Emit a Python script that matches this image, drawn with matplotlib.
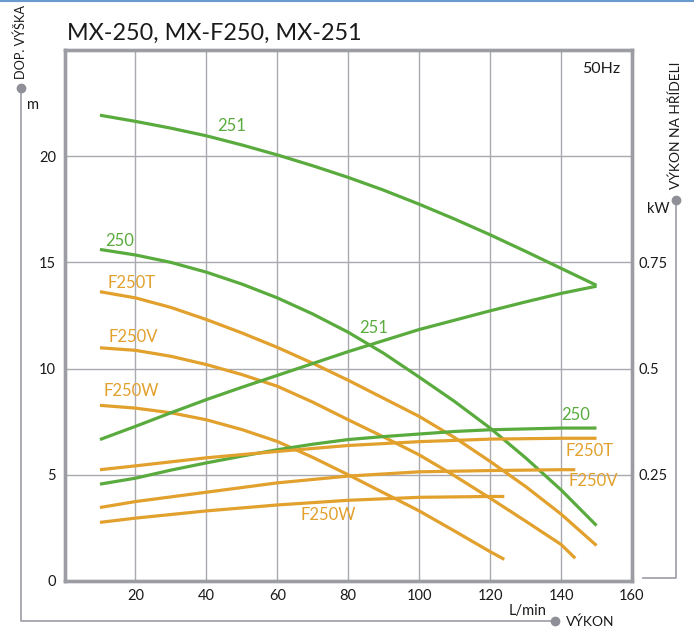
import matplotlib
matplotlib.use("Agg")
import matplotlib.pyplot as plt
from matplotlib.lines import Line2D

plt.rcParams['font.family'] = ['Lato', 'DejaVu Sans']

# ---------------- data ----------------
# flow (L/min), head (m), shaft power (kW)
q_251_h = [10, 20, 30, 40, 50, 60, 70, 80, 90, 100, 110, 120, 130, 140, 150]
h_251 = [21.93, 21.64, 21.32, 20.96, 20.53, 20.06, 19.55, 19.0, 18.4, 17.74,
         17.04, 16.3, 15.52, 14.72, 13.92]
q_251_p = [10, 20, 30, 40, 50, 60, 70, 80, 90, 100, 110, 120, 130, 140, 150]
p_251 = [0.333, 0.364, 0.396, 0.427, 0.456, 0.484, 0.512, 0.540, 0.566, 0.592,
         0.614, 0.636, 0.657, 0.677, 0.694]

q_250_h = [10, 20, 30, 40, 50, 60, 70, 80, 90, 100, 110, 120, 130, 140, 150]
h_250 = [15.61, 15.35, 15.0, 14.54, 13.98, 13.33, 12.57, 11.71, 10.72, 9.6,
         8.45, 7.2, 5.8, 4.29, 2.61]
q_250_p = [10, 20, 30, 40, 50, 60, 70, 80, 90, 100, 110, 120, 130, 140, 150]
p_250 = [0.228, 0.242, 0.261, 0.278, 0.294, 0.309, 0.322, 0.333, 0.340, 0.346,
         0.352, 0.356, 0.358, 0.360, 0.360]

q_f250t_h = [10, 20, 30, 40, 50, 60, 70, 80, 90, 100, 110, 120, 130, 140, 150]
h_f250t = [13.62, 13.33, 12.88, 12.31, 11.68, 11.0, 10.25, 9.45, 8.6, 7.75,
           6.75, 5.63, 4.45, 3.15, 1.67]
q_f250t_p = [10, 20, 40, 60, 80, 100, 120, 140, 150]
p_f250t = [0.262, 0.271, 0.290, 0.305, 0.319, 0.328, 0.334, 0.336, 0.336]

q_f250v_h = [10, 20, 30, 40, 50, 60, 70, 80, 90, 100, 110, 120, 130, 140, 144]
h_f250v = [10.98, 10.86, 10.58, 10.19, 9.72, 9.17, 8.42, 7.59, 6.78, 5.94,
           4.95, 3.90, 2.82, 1.72, 1.07]
q_f250v_p = [10, 20, 40, 60, 80, 100, 120, 140, 144]
p_f250v = [0.173, 0.187, 0.209, 0.231, 0.247, 0.257, 0.260, 0.262, 0.262]

q_f250w_h = [10, 20, 30, 40, 50, 60, 70, 80, 90, 100, 110, 120, 124]
h_f250w = [8.27, 8.14, 7.92, 7.59, 7.13, 6.57, 5.82, 5.0, 4.15, 3.30, 2.35,
           1.38, 1.02]
q_f250w_p = [10, 20, 40, 60, 80, 100, 120, 124]
p_f250w = [0.138, 0.148, 0.165, 0.179, 0.190, 0.197, 0.199, 0.199]

x_ticks = [20, 40, 60, 80, 100, 120, 140, 160]
y_ticks = [0, 5, 10, 15, 20]
kw_ticks = [0.25, 0.5, 0.75]

GREEN = '#5aab3e'
ORANGE = '#e2a02d'
FRAME = '#9c9ca4'
GRID = '#a9a9b2'
TXT = '#1a1a1a'

fig = plt.figure(figsize=(6.94, 6.32), dpi=100)
W, H = 694, 632

def fx(px):
    return px / W

def fy(py):
    return 1 - py / H

ax = fig.add_axes([fx(64.5), fy(581), fx(632) - fx(64.5), fy(50) - fy(581)])
ax.set_xlim(0, 160)
ax.set_ylim(0, 25)
ax2 = ax.twinx()
ax2.set_ylim(0, 1.25)

for a in (ax, ax2):
    for s in a.spines.values():
        s.set_color(FRAME)
        s.set_linewidth(2.4)
    a.tick_params(length=0)

ax.set_xticks(x_ticks)
ax.set_xticklabels([str(v) for v in x_ticks], fontsize=10.5, color=TXT)
ax.set_yticks(y_ticks)
ax.set_yticklabels([str(v) for v in y_ticks], fontsize=10.5, color=TXT)
ax.tick_params(axis='x', pad=6)
ax.tick_params(axis='y', pad=6)
ax2.set_yticks(kw_ticks)
ax2.set_yticklabels([f"{v:g}" for v in kw_ticks], fontsize=10.5, color=TXT)
ax2.tick_params(axis='y', pad=5)
ax.grid(True, color=GRID, linewidth=1.0)
ax.set_axisbelow(True)

lw = 2.3
kw = dict(lw=lw, solid_capstyle='butt', solid_joinstyle='round')
ax.plot(q_251_h, h_251, color=GREEN, **kw)
ax.plot(q_250_h, h_250, color=GREEN, **kw)
ax.plot(q_f250t_h, h_f250t, color=ORANGE, **kw)
ax.plot(q_f250v_h, h_f250v, color=ORANGE, **kw)
ax.plot(q_f250w_h, h_f250w, color=ORANGE, **kw)
ax2.plot(q_251_p, p_251, color=GREEN, **kw)
ax2.plot(q_250_p, p_250, color=GREEN, **kw)
ax2.plot(q_f250t_p, p_f250t, color=ORANGE, **kw)
ax2.plot(q_f250v_p, p_f250v, color=ORANGE, **kw)
ax2.plot(q_f250w_p, p_f250w, color=ORANGE, **kw)

lab = dict(fontsize=12, ha='center', va='center')
ax.text(47.2, 21.4, '251', color=GREEN, **lab)
ax.text(15.6, 16.0, '250', color=GREEN, **lab)
ax.text(18.9, 14.05, 'F250T', color=ORANGE, **lab)
ax.text(19.3, 11.5, 'F250V', color=ORANGE, **lab)
ax.text(18.8, 8.95, 'F250W', color=ORANGE, **lab)
ax.text(74.5, 3.1, 'F250W', color=ORANGE, **lab)
ax.text(87.1, 11.9, '251', color=GREEN, **lab)
ax.text(144.2, 7.8, '250', color=GREEN, **lab)
ax.text(147.9, 6.1, 'F250T', color=ORANGE, **lab)
ax.text(149.0, 4.7, 'F250V', color=ORANGE, **lab)
ax.text(0.98, 0.965, '50Hz', transform=ax.transAxes, fontsize=11.5,
        ha='right', va='center', color=TXT)

# title
fig.text(fx(67), fy(33), 'MX-250, MX-F250, MX-251', fontsize=16.8,
         ha='left', va='center', color=TXT)

# top thin blue line
fig.add_artist(Line2D([0, 1], [fy(0.8), fy(0.8)], transform=fig.transFigure,
                      color='#6a9bd0', lw=1.5))

LINEC = '#a4a4ac'
# left bracket
fig.add_artist(Line2D([fx(21), fx(21), fx(555)], [fy(88), fy(621), fy(621)],
                      transform=fig.transFigure, color=LINEC, lw=1.3))
# right bracket
fig.add_artist(Line2D([fx(643), fx(676), fx(676)], [fy(578), fy(578), fy(200)],
                      transform=fig.transFigure, color=LINEC, lw=1.3))
# dots
for (px, py) in [(21, 88), (555, 621), (676, 200)]:
    fig.add_artist(Line2D([fx(px)], [fy(py)], transform=fig.transFigure,
                          marker='o', markersize=6, color='#8f8f98', lw=0))

fig.text(fx(21), fy(42), 'DOP. VÝŠKA', rotation=90, fontsize=9.2,
         ha='center', va='center', color=TXT)
fig.text(fx(33), fy(105), 'm', fontsize=10.5, ha='center', va='center', color=TXT)
fig.text(fx(566), fy(622), 'VÝKON', fontsize=10, ha='left', va='center', color=TXT)
fig.text(fx(528), fy(611), 'L/min', fontsize=10.5, ha='center', va='center', color=TXT)
fig.text(fx(676), fy(125), 'VÝKON NA HŘÍDELI', rotation=90, fontsize=10,
         ha='center', va='center', color=TXT)
fig.text(fx(658), fy(209), 'kW', fontsize=10.5, ha='center', va='center', color=TXT)

fig.savefig('out.png', dpi=100)
